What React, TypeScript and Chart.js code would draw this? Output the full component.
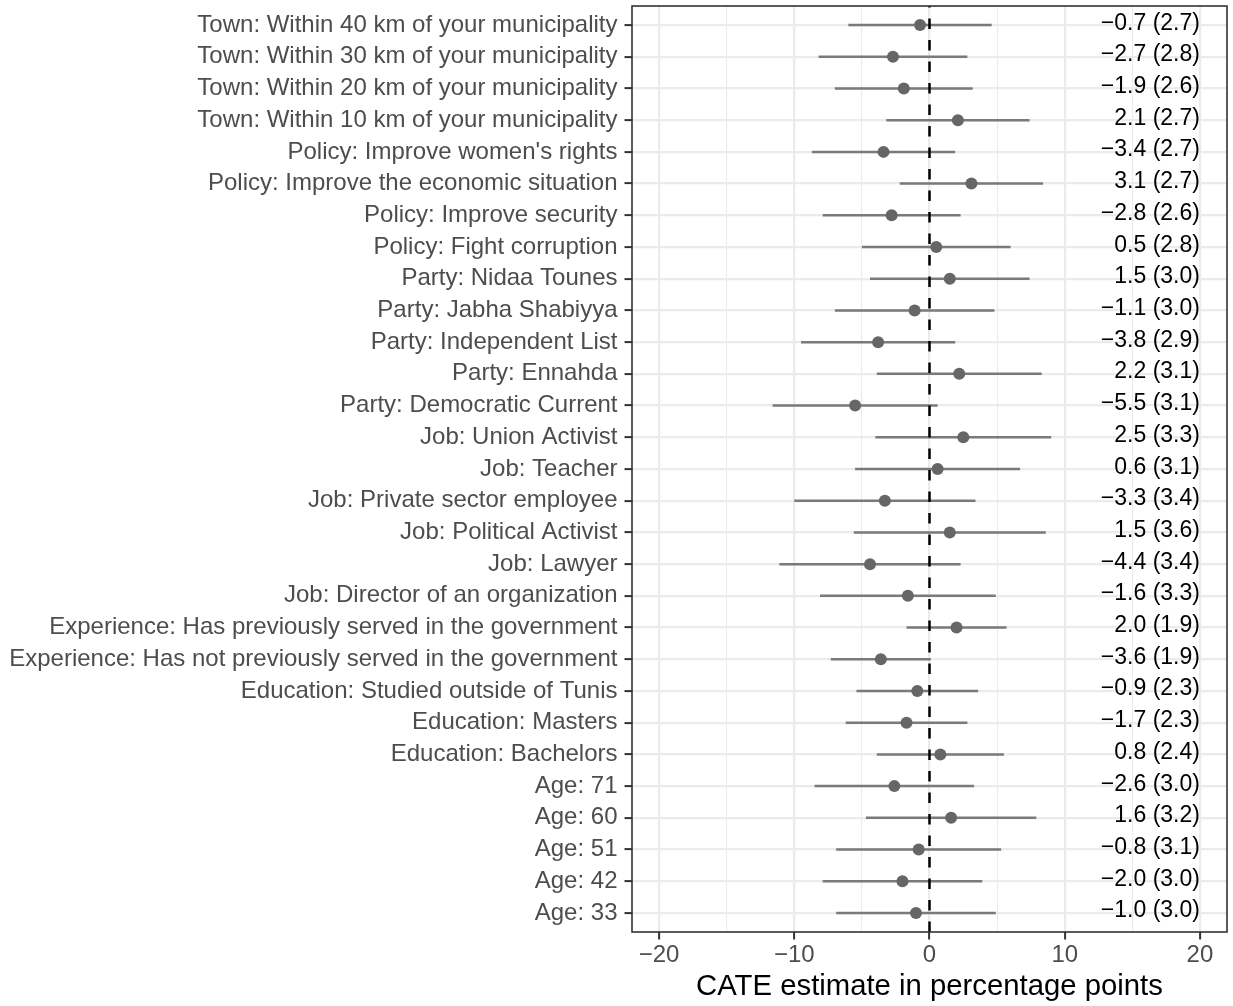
import React, { useEffect, useRef } from 'react';
import { Chart, registerables } from 'chart.js';

Chart.register(...registerables);

// Rows listed top to bottom
const categories = [
  'Town: Within 40 km of your municipality',
  'Town: Within 30 km of your municipality',
  'Town: Within 20 km of your municipality',
  'Town: Within 10 km of your municipality',
  "Policy: Improve women's rights",
  'Policy: Improve the economic situation',
  'Policy: Improve security',
  'Policy: Fight corruption',
  'Party: Nidaa Tounes',
  'Party: Jabha Shabiyya',
  'Party: Independent List',
  'Party: Ennahda',
  'Party: Democratic Current',
  'Job: Union Activist',
  'Job: Teacher',
  'Job: Private sector employee',
  'Job: Political Activist',
  'Job: Lawyer',
  'Job: Director of an organization',
  'Experience: Has previously served in the government',
  'Experience: Has not previously served in the government',
  'Education: Studied outside of Tunis',
  'Education: Masters',
  'Education: Bachelors',
  'Age: 71',
  'Age: 60',
  'Age: 51',
  'Age: 42',
  'Age: 33',
];

const estimates = [
  -0.7, -2.7, -1.9, 2.1, -3.4, 3.1, -2.8, 0.5, 1.5, -1.1, -3.8, 2.2, -5.5, 2.5,
  0.6, -3.3, 1.5, -4.4, -1.6, 2.0, -3.6, -0.9, -1.7, 0.8, -2.6, 1.6, -0.8, -2.0,
  -1.0,
];

const stdErrors = [
  2.7, 2.8, 2.6, 2.7, 2.7, 2.7, 2.6, 2.8, 3.0, 3.0, 2.9, 3.1, 3.1, 3.3, 3.1, 3.4,
  3.6, 3.4, 3.3, 1.9, 1.9, 2.3, 2.3, 2.4, 3.0, 3.2, 3.1, 3.0, 3.0,
];

const lowerBounds = [
  -6.0, -8.2, -7.0, -3.2, -8.7, -2.2, -7.9, -5.0, -4.4, -7.0, -9.5, -3.9, -11.6,
  -4.0, -5.5, -10.0, -5.6, -11.1, -8.1, -1.7, -7.3, -5.4, -6.2, -3.9, -8.5, -4.7,
  -6.9, -7.9, -6.9,
];

const upperBounds = [
  4.6, 2.8, 3.2, 7.4, 1.9, 8.4, 2.3, 6.0, 7.4, 4.8, 1.9, 8.3, 0.6, 9.0, 6.7, 3.4,
  8.6, 2.3, 4.9, 5.7, 0.1, 3.6, 2.8, 5.5, 3.3, 7.9, 5.3, 3.9, 4.9,
];

const xTickValues = [-20, -15, -10, -5, 0, 5, 10, 15, 20];
const xMajorTicks = [-20, -10, 0, 10, 20];
const xAxisTitle = 'CATE estimate in percentage points';
const labelXPosition = 20;

const fmtNum = (v: number) => (v < 0 ? '\u2212' : '') + Math.abs(v).toFixed(1);
const estLabels = estimates.map((e, i) => `${fmtNum(e)} (${stdErrors[i].toFixed(1)})`);

const W = 1233;
const H = 1006;
const PANEL_LEFT = 632;
const PANEL_TOP = 5.5;
const PANEL_RIGHT = 1229;
const PANEL_BOTTOM = 932;

const FONT = '"Liberation Sans", Arial, Helvetica, sans-serif';

export default function App() {
  const canvasRef = useRef<HTMLCanvasElement | null>(null);

  useEffect(() => {
    const canvas = canvasRef.current;
    if (!canvas) return;

    const errorData: any[] = [];
    categories.forEach((_, i) => {
      errorData.push({ x: lowerBounds[i], y: i });
      errorData.push({ x: upperBounds[i], y: i });
      errorData.push({ x: null, y: null });
    });
    const pointData = categories.map((_, i) => ({ x: estimates[i], y: i }));

    const overlayPlugin = {
      id: 'overlay',
      afterDatasetsDraw(chart: any) {
        const { ctx, chartArea, scales } = chart;
        const xs = scales.x;
        const ys = scales.y;
        ctx.save();
        // zero reference line
        const x0 = xs.getPixelForValue(0);
        ctx.strokeStyle = '#000000';
        ctx.lineWidth = 2.5;
        ctx.setLineDash([10.5, 11]);
        ctx.beginPath();
        ctx.moveTo(x0, chartArea.bottom);
        ctx.lineTo(x0, chartArea.top);
        ctx.stroke();
        ctx.setLineDash([]);
        // value labels
        ctx.fillStyle = '#000000';
        ctx.font = `23px ${FONT}`;
        ctx.textAlign = 'right';
        ctx.textBaseline = 'alphabetic';
        const lx = xs.getPixelForValue(labelXPosition);
        estLabels.forEach((t, i) => {
          ctx.fillText(t, lx, ys.getPixelForValue(i) + 4.5);
        });
        ctx.restore();
      },
      afterDraw(chart: any) {
        const { ctx, chartArea } = chart;
        ctx.save();
        ctx.strokeStyle = '#333333';
        ctx.lineWidth = 1.6;
        ctx.strokeRect(
          chartArea.left,
          chartArea.top,
          chartArea.right - chartArea.left,
          chartArea.bottom - chartArea.top
        );
        ctx.restore();
      },
    };

    const chart = new Chart(canvas, {
      type: 'scatter',
      data: {
        datasets: [
          {
            label: 'ci',
            data: errorData,
            showLine: true,
            spanGaps: false,
            borderColor: '#7a7a7a',
            borderWidth: 2.5,
            pointRadius: 0,
            pointHoverRadius: 0,
            order: 2,
          } as any,
          {
            label: 'est',
            data: pointData,
            showLine: false,
            backgroundColor: '#666666',
            borderColor: '#666666',
            borderWidth: 0,
            pointRadius: 6,
            pointHoverRadius: 6,
            order: 1,
          } as any,
        ],
      },
      options: {
        responsive: false,
        maintainAspectRatio: false,
        animation: false,
        devicePixelRatio: 1,
        events: [],
        layout: {
          padding: { left: 0, top: PANEL_TOP, right: W - PANEL_RIGHT, bottom: 0 },
        },
        plugins: {
          legend: { display: false },
          tooltip: { enabled: false },
          title: { display: false },
        },
        scales: {
          x: {
            type: 'linear',
            min: -22,
            max: 22,
            afterBuildTicks: (scale: any) => {
              scale.ticks = xTickValues.map((v) => ({ value: v }));
            },
            afterFit: (scale: any) => {
              scale.height = H - PANEL_BOTTOM;
              scale.paddingLeft = 0;
              scale.paddingRight = 0;
            },
            border: { display: false },
            grid: {
              color: '#EBEBEB',
              lineWidth: (ctx: any) =>
                xMajorTicks.includes(ctx.tick?.value) ? 2.2 : 1.1,
              drawTicks: true,
              tickLength: 7.5,
              tickWidth: 2,
              tickColor: (ctx: any) =>
                xMajorTicks.includes(ctx.tick?.value) ? '#333333' : 'rgba(0,0,0,0)',
            },
            ticks: {
              autoSkip: false,
              maxRotation: 0,
              padding: 1.5,
              color: '#4D4D4D',
              font: { family: FONT, size: 24 },
              callback: (v: any) =>
                xMajorTicks.includes(Number(v)) ? fmtNum(Number(v)).replace('.0', '') : '',
            },
            title: {
              display: true,
              text: xAxisTitle,
              color: '#000000',
              font: { family: FONT, size: 29.3 },
              padding: { top: 0, bottom: 2 },
            },
          },
          y: {
            type: 'linear',
            min: -0.6,
            max: categories.length - 1 + 0.6,
            reverse: true,
            afterBuildTicks: (scale: any) => {
              scale.ticks = categories.map((_, i) => ({ value: i }));
            },
            afterFit: (scale: any) => {
              scale.width = PANEL_LEFT;
              scale.paddingTop = 0;
              scale.paddingBottom = 0;
            },
            border: { display: false },
            grid: {
              color: '#EBEBEB',
              lineWidth: 2.2,
              drawTicks: true,
              tickLength: 7.5,
              tickWidth: 2,
              tickColor: '#333333',
            },
            ticks: {
              autoSkip: false,
              padding: 7,
              color: '#4D4D4D',
              font: { family: FONT, size: 24 },
              callback: (v: any) => categories[Number(v)] ?? '',
            },
          },
        },
      },
      plugins: [overlayPlugin],
    } as any);

    return () => {
      chart.destroy();
    };
  }, []);

  return (
    <div style={{ position: 'fixed', left: 0, top: 0, width: W, height: H, background: '#ffffff' }}>
      <canvas ref={canvasRef} width={W} height={H} style={{ width: W, height: H, display: 'block' }} />
    </div>
  );
}
